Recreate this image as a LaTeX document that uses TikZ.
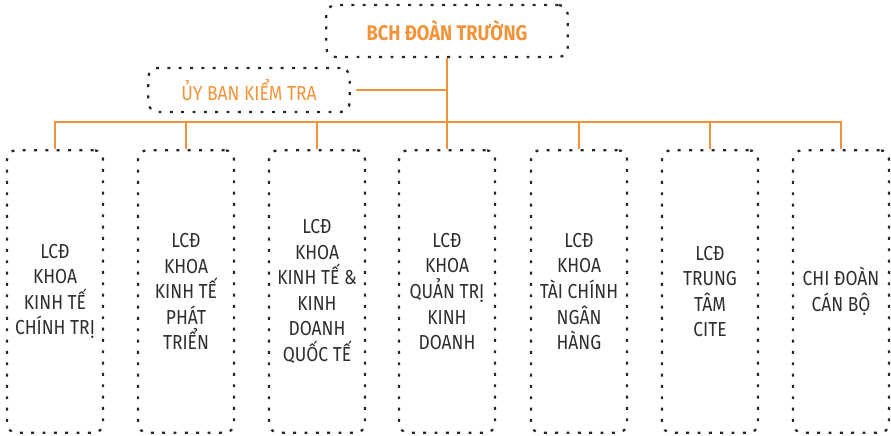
\documentclass[tikz,border=0pt]{standalone}
\usepackage{fontspec}
\setmainfont{Fira Sans}[FakeStretch=0.86]
\definecolor{org}{HTML}{F39339}
\definecolor{txt}{HTML}{2E2E2E}
\begin{document}
\begin{tikzpicture}[x=0.75pt,y=-0.75pt,
  dotbox/.style={draw=black!85,line width=1.7pt,dash pattern=on 2.2pt off 6.3pt,rounded corners=7pt,inner sep=0pt,align=center},
  unit/.style={dotbox,minimum width=72pt,minimum height=212pt,text=txt,font=\fontsize{15.2}{19.2}\selectfont},
  link/.style={draw=org,line width=1.5pt}]
\useasboundingbox (0,0) rectangle (891,435);
\node[dotbox,minimum width=181pt,minimum height=39pt,text=org,font=\fontsize{15.9}{18}\selectfont\bfseries] (top) at (447,31) {BCH ĐOÀN TRƯỜNG};
\node[dotbox,minimum width=151pt,minimum height=33pt,text=org,font=\fontsize{15.2}{18}\selectfont] (ub) at (249,90) {ỦY BAN KIỂM TRA};
\node[unit] (k1) at (55,291.5) {LCĐ\\KHOA\\KINH TẾ\\CHÍNH TRỊ};
\node[unit] (k2) at (186,291.5) {LCĐ\\KHOA\\KINH TẾ\\PHÁT\\TRIỂN};
\node[unit] (k3) at (317,291.5) {LCĐ\\KHOA\\KINH TẾ \&\\KINH\\DOANH\\QUỐC TẾ};
\node[unit] (k4) at (447,291.5) {LCĐ\\KHOA\\QUẢN TRỊ\\KINH\\DOANH};
\node[unit] (k5) at (579,291.5) {LCĐ\\KHOA\\TÀI CHÍNH\\NGÂN\\HÀNG};
\node[unit] (k6) at (710,291.5) {LCĐ\\TRUNG\\TÂM\\CITE};
\node[unit] (k7) at (841,291.5) {CHI ĐOÀN\\CÁN BỘ};
\coordinate (bus) at (447,122);
\draw[link] (top.south) -- (k4.north);
\draw[link] ([xshift=4pt]ub.east) -- (ub.east -| top.south);
\draw[link] (k1.north) -- (k1.north |- bus) -- (k7.north |- bus) -- (k7.north);
\foreach \i in {2,3,5,6}{\draw[link] (k\i.north) -- (k\i.north |- bus);}
\end{tikzpicture}
\end{document}
